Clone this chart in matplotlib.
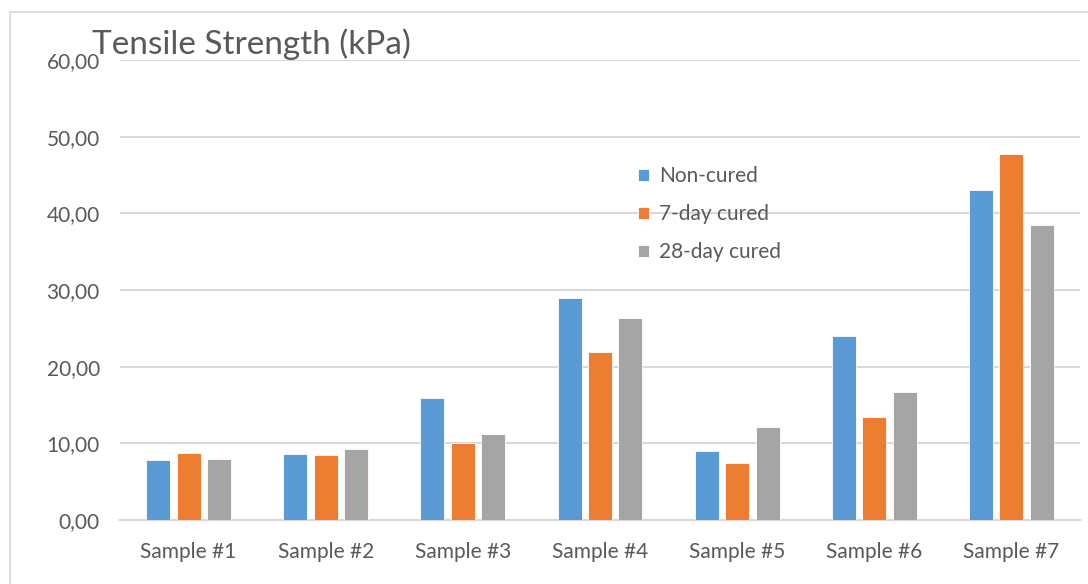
import matplotlib
matplotlib.use("Agg")
import matplotlib.pyplot as plt
import numpy as np
from matplotlib.patches import Rectangle

categories = ["Sample #1", "Sample #2", "Sample #3", "Sample #4", "Sample #5", "Sample #6", "Sample #7"]
series_names = ["Non-cured", "7-day cured", "28-day cured"]
non_cured = [7.8, 8.6, 15.9, 29.0, 9.0, 24.0, 43.0]
day7_cured = [8.7, 8.5, 10.0, 21.9, 7.4, 13.5, 47.7]
day28_cured = [8.0, 9.2, 11.2, 26.3, 12.1, 16.7, 38.5]
y_ticks = [0, 10, 20, 30, 40, 50, 60]
y_tick_labels = ["0,00", "10,00", "20,00", "30,00", "40,00", "50,00", "60,00"]

colors = ["#5b9bd5", "#ed7d31", "#a5a5a5"]
plt.rcParams['font.family'] = ['Lato', 'DejaVu Sans']

fig = plt.figure(figsize=(10.88, 5.84), dpi=100)
fig.patches.append(Rectangle((10/1088, -0.1), 1.2, 1 - 12/584 + 0.1, transform=fig.transFigure,
                             fill=False, edgecolor="#d9d9d9", linewidth=1.2))
ax = fig.add_axes([120/1088, 1 - 520/584, 960/1088, 460/584])

x = np.arange(len(categories))
w = 0.175
off = 0.222
for i, (vals, name) in enumerate(zip([non_cured, day7_cured, day28_cured], series_names)):
    ax.bar(x + (i - 1) * off, vals, width=w, color=colors[i], label=name,
           edgecolor="white", linewidth=0.6, zorder=3)

ax.set_xlim(-0.5, len(categories) - 0.5)
ax.set_ylim(0, 60)
ax.set_yticks(y_ticks)
ax.set_yticklabels(y_tick_labels)
ax.set_xticks(x)
ax.set_xticklabels(categories)
ax.tick_params(axis='both', length=0, labelsize=15, labelcolor="#595959")
ax.tick_params(axis='x', pad=16)
ax.tick_params(axis='y', pad=14.5)
ax.grid(axis='y', color="#d9d9d9", linewidth=1.5, zorder=0)
for s in ["top", "right", "left"]:
    ax.spines[s].set_visible(False)
ax.spines["bottom"].set_color("#d9d9d9")
ax.spines["bottom"].set_linewidth(1.5)

fig.text(92/1088, 1 - 44/584, "Tensile Strength (kPa)", fontsize=24, color="#595959",
         ha="left", va="center")

leg = ax.legend(loc="upper left", bbox_to_anchor=(0.520, 0.810), frameon=False, fontsize=15,
                handlelength=0.55, handleheight=0.55, handletextpad=0.45, labelspacing=0.87,
                labelcolor="#595959")

fig.savefig("out.png", dpi=100)
